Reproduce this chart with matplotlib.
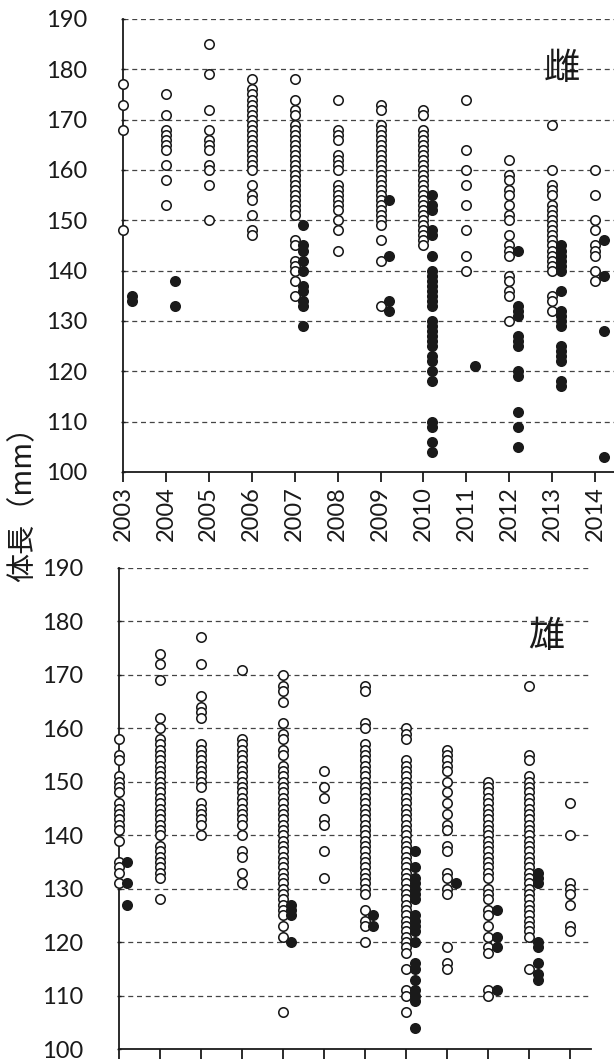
import matplotlib
matplotlib.use("Agg")
import matplotlib.pyplot as plt

plt.rcParams['font.family'] = ['Lato', 'DejaVu Sans']

years = [2003, 2004, 2005, 2006, 2007, 2008, 2009, 2010, 2011, 2012, 2013, 2014]
year_labels = [str(y) for y in years]
yticks = [100, 110, 120, 130, 140, 150, 160, 170, 180, 190]

# ---- Female (雌): open = one group, filled = other group
fem_open = {
    2003: [177, 173, 168, 148],
    2004: [175, 171, 168, 167, 166, 165, 164, 161, 158, 153],
    2005: [185, 179, 172, 168, 166, 165, 164, 161, 160, 157, 150],
    2006: [178, 176, 175, 174, 173, 172, 171, 170, 169, 168, 167, 166, 165, 164, 163, 162,
           161, 160, 157, 155, 154, 151, 148, 147],
    2007: [178, 174, 172, 171, 169, 168, 167, 166, 165, 164, 163, 162, 161, 160, 159, 158,
           157, 156, 155, 154, 153, 152, 151, 146, 145, 142, 141, 140, 138, 135],
    2008: [174, 168, 167, 166, 163, 162, 161, 160, 157, 156, 155, 154, 153, 152, 150, 148, 144],
    2009: [173, 172, 169, 168, 167, 166, 165, 164, 163, 162, 161, 160, 159, 158, 157, 156,
           155, 154, 153, 152, 151, 150, 149, 146, 142, 133],
    2010: [172, 171, 168, 167, 166, 165, 164, 163, 162, 161, 160, 159, 158, 157, 156, 155,
           154, 153, 152, 151, 150, 149, 148, 147, 146, 145],
    2011: [174, 164, 160, 157, 153, 148, 143, 140],
    2012: [162, 159, 158, 156, 155, 153, 151, 150, 147, 145, 144, 143, 139, 138, 136, 135, 130],
    2013: [169, 160, 157, 156, 155, 153, 152, 151, 150, 149, 148, 147, 146, 145, 144, 143,
           142, 141, 140, 135, 134, 132],
    2014: [160, 155, 150, 148, 145, 144, 143, 140, 138],
}
fem_fill = {
    2003: [135, 134],
    2004: [138, 133],
    2007: [149, 145, 144, 142, 140, 137, 136, 134, 133, 129],
    2009: [154, 143, 134, 132],
    2010: [155, 153, 152, 148, 147, 143, 140, 139, 138, 137, 136, 135, 134, 133, 130, 129,
           128, 127, 126, 125, 123, 122, 120, 118, 110, 109, 106, 104],
    2011: [121],
    2012: [144, 133, 132, 131, 127, 126, 125, 120, 119, 112, 109, 105],
    2013: [145, 144, 143, 142, 141, 140, 136, 132, 131, 130, 129, 125, 124, 123, 122, 118, 117],
    2014: [146, 139, 128, 103],
}

# ---- Male (雄)
male_open = {
    2003: [158, 155, 154, 151, 150, 149, 148, 146, 145, 144, 143, 142, 141, 139, 135, 134, 133, 131],
    2004: [174, 172, 169, 162, 160, 158, 157, 156, 155, 154, 153, 152, 151, 150, 149, 148,
           147, 146, 145, 144, 143, 142, 141, 140, 138, 137, 136, 135, 134, 133, 132, 128],
    2005: [177, 172, 166, 164, 163, 162, 157, 156, 155, 154, 153, 152, 151, 150, 149, 146,
           145, 144, 143, 142, 140],
    2006: [171, 158, 157, 156, 155, 154, 153, 152, 151, 150, 149, 148, 147, 146, 145, 144,
           143, 142, 140, 137, 136, 133, 131],
    2007: [170, 168, 167, 165, 161, 159, 158, 156, 155, 153, 152, 151, 150, 149, 148, 147,
           146, 145, 144, 143, 142, 141, 140, 139, 138, 137, 136, 135, 134, 133, 132, 131,
           130, 129, 128, 127, 126, 125, 123, 121, 107],
    2008: [152, 149, 147, 143, 142, 137, 132],
    2009: [168, 167, 161, 160, 157, 156, 155, 154, 153, 152, 151, 150, 149, 148, 147, 146,
           145, 144, 143, 142, 141, 140, 139, 138, 137, 136, 135, 134, 133, 132, 131, 130,
           129, 126, 124, 123, 120],
    2010: [160, 159, 158, 154, 153, 152, 151, 150, 149, 148, 147, 146, 145, 144, 143, 142,
           141, 140, 139, 138, 137, 136, 135, 134, 133, 132, 131, 130, 129, 128, 127, 126,
           125, 124, 123, 122, 121, 120, 119, 118, 115, 111, 110, 107],
    2011: [156, 155, 154, 153, 152, 150, 148, 146, 144, 142, 141, 138, 137, 133, 132, 130,
           129, 119, 116, 115],
    2012: [150, 149, 148, 147, 146, 145, 144, 143, 142, 141, 140, 139, 138, 137, 136, 135,
           134, 133, 132, 130, 129, 128, 126, 125, 123, 121, 119, 118, 111, 110],
    2013: [168, 155, 154, 151, 150, 149, 148, 147, 146, 145, 144, 143, 142, 141, 140, 139,
           138, 137, 136, 135, 134, 133, 132, 131, 130, 129, 128, 127, 126, 125, 124, 123,
           122, 121, 115],
    2014: [146, 140, 131, 130, 129, 127, 123, 122],
}
male_fill = {
    2003: [135, 131, 127],
    2007: [127, 126, 125, 120],
    2009: [125, 123],
    2010: [137, 134, 132, 131, 130, 129, 128, 125, 124, 123, 122, 120, 116, 115, 113, 111,
           110, 109, 104],
    2011: [131],
    2012: [126, 121, 119, 111],
    2013: [133, 132, 131, 120, 119, 116, 114, 113],
}

W, H = 614, 1063
fig = plt.figure(figsize=(W / 100, H / 100), dpi=100)

def box(l, t, r, b):
    return [l / W, 1 - b / H, (r - l) / W, (b - t) / H]

ax1 = fig.add_axes(box(123, 19, 614, 472))
ax2 = fig.add_axes(box(119, 568, 591, 1049))

OFF = 0.2
MS = 6.8
MEW = 1.15

def draw(ax, op, fi, xmax):
    for yr, vals in op.items():
        ax.plot([yr] * len(vals), vals, 'o', ms=MS, mfc='white', mec='#1a1a1a',
                mew=MEW, ls='none', zorder=3, clip_on=False)
    for yr, vals in fi.items():
        ax.plot([yr + OFF] * len(vals), vals, 'o', ms=MS, mfc='#1a1a1a', mec='#1a1a1a',
                mew=MEW, ls='none', zorder=4, clip_on=False)
    ax.set_xlim(2003, xmax)
    ax.set_ylim(100, 190)
    ax.set_yticks(yticks)
    ax.set_xticks(years)
    for s in ['top', 'right']:
        ax.spines[s].set_visible(False)
    for s in ['left', 'bottom']:
        ax.spines[s].set_color('#1a1a1a')
        ax.spines[s].set_linewidth(1.3)
    for v in yticks[1:]:
        ax.axhline(v, color='#444444', lw=0.9, ls=(0, (4, 3)), zorder=1)
    ax.tick_params(axis='y', length=3, direction='inout', width=1.0, pad=24,
                   labelsize=17, colors='#1a1a1a')
    ax.tick_params(axis='x', length=7, direction='out', width=1.3, colors='#1a1a1a')

draw(ax1, fem_open, fem_fill, 2014.44)
draw(ax2, male_open, male_fill, 2014.5)

ax1.set_xticklabels(year_labels, rotation=90, fontsize=17)
ax1.tick_params(axis='x', pad=3)
ax2.set_xticklabels([])

ax1.text(2013.22, 180, '雌', fontsize=26, family=['Noto Sans CJK JP'],
         ha='center', va='center', color='#1a1a1a', zorder=5)
ax2.text(2013.41, 177.0, '雄', fontsize=26, family=['Noto Sans CJK JP'],
         ha='center', va='center', color='#1a1a1a', zorder=5)

fig.text(23 / W, 1 - 497 / H, '体長（mm）', rotation=90, fontsize=21,
         family=['Noto Sans CJK JP', 'DejaVu Sans'], ha='center', va='center',
         color='#1a1a1a')

fig.savefig('out.png', dpi=100)
